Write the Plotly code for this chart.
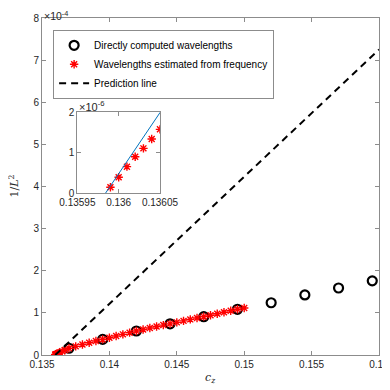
#!/usr/bin/env python3

'''
    Inverse squared wavelength versus c_z, with a zoomed inset near onset
'''

import plotly.graph_objects as go

# Directly computed wavelengths (1/L^2)
direct_cz = [0.1370, 0.1395, 0.1420, 0.1445, 0.1470, 0.1495, 0.1520, 0.1545, 0.1570, 0.1595]
direct_inv_l2 = [0.16e-4, 0.37e-4, 0.57e-4, 0.74e-4, 0.91e-4, 1.085e-4, 1.24e-4, 1.425e-4, 1.59e-4, 1.76e-4]

# Wavelengths estimated from frequency (1/L^2)
freq_cz = [0.13599, 0.13600, 0.13601, 0.13602, 0.13603, 0.13604, 0.13605,
           0.1361, 0.1362, 0.1363, 0.1365, 0.1367, 0.1370,
           0.1375, 0.1380, 0.1385, 0.1390, 0.1395, 0.1400, 0.1405, 0.1410,
           0.1415, 0.1420, 0.1425, 0.1430, 0.1435, 0.1440, 0.1445, 0.1450,
           0.1455, 0.1460, 0.1465, 0.1470, 0.1475, 0.1480, 0.1485, 0.1490,
           0.1495, 0.1500]
freq_inv_l2 = [0.148e-6, 0.395e-6, 0.657e-6, 0.904e-6, 1.11e-6, 1.34e-6, 1.58e-6,
               2.5e-6, 4.3e-6, 5.9e-6, 8.9e-6, 11.7e-6, 16.0e-6,
               20.5e-6, 24.9e-6, 29.1e-6, 33.1e-6, 37.0e-6, 41.0e-6, 45.0e-6, 49.0e-6,
               53.0e-6, 57.0e-6, 60.5e-6, 64.0e-6, 67.5e-6, 71.0e-6, 74.0e-6, 77.5e-6,
               81.0e-6, 84.5e-6, 88.0e-6, 91.0e-6, 94.5e-6, 98.0e-6, 101.5e-6, 105.0e-6,
               108.5e-6, 111.5e-6]

# Prediction line end points
pred_cz = [0.135984, 0.16]
pred_inv_l2 = [0.0, 7.25e-4]

# Tick labels
main_xticks = [0.135, 0.14, 0.145, 0.15, 0.155, 0.16]
main_xticktext = ['0.135', '0.14', '0.145', '0.15', '0.155', '0.16']
main_yticks = [0, 1, 2, 3, 4, 5, 6, 7, 8]
inset_xticks = [0.13595, 0.136, 0.13605]
inset_xticktext = ['0.13595', '0.136', '0.13605']
inset_yticks = [0, 1, 2]

font_family = 'Liberation Sans, Arial, sans-serif'
axis_grey = '#8c8c8c'
text_grey = '#262626'

fig = go.Figure()

# Main plot (values shown in units of 1e-4)
fig.add_trace(go.Scatter(
    x=direct_cz, y=[v * 1e4 for v in direct_inv_l2],
    mode='markers', name='Directly computed wavelengths',
    marker=dict(symbol='circle-open', size=9, color='black', line=dict(width=2.2, color='black')),
    xaxis='x', yaxis='y'
))
fig.add_trace(go.Scatter(
    x=freq_cz, y=[v * 1e4 for v in freq_inv_l2],
    mode='markers', name='Wavelengths estimated from frequency',
    marker=dict(symbol='asterisk-open', size=7, color='red', line=dict(width=1.4, color='red')),
    xaxis='x', yaxis='y'
))
fig.add_trace(go.Scatter(
    x=pred_cz, y=[v * 1e4 for v in pred_inv_l2],
    mode='lines', name='Prediction line',
    line=dict(color='black', width=2, dash='7px,5px'),
    xaxis='x', yaxis='y'
))

# Inset (values shown in units of 1e-6)
fig.add_trace(go.Scatter(
    x=freq_cz, y=[v * 1e6 for v in freq_inv_l2],
    mode='markers', showlegend=False,
    marker=dict(symbol='asterisk-open', size=7, color='red', line=dict(width=1.4, color='red')),
    xaxis='x2', yaxis='y2'
))
fig.add_trace(go.Scatter(
    x=pred_cz, y=[v * 1e6 for v in pred_inv_l2],
    mode='lines', showlegend=False,
    line=dict(color='#0072BD', width=1),
    xaxis='x2', yaxis='y2'
))

axis_common = dict(
    showgrid=False, zeroline=False, showline=True, linecolor=axis_grey, linewidth=1,
    mirror='ticks', ticks='inside', ticklen=4, tickcolor=axis_grey, automargin=False,
    tickfont=dict(size=10, color=text_grey, family=font_family),
)

# page body adds ~8 px offset, so the figure is a bit smaller and the margins compensate
fig.update_layout(
    width=382, height=382,
    margin=dict(l=34, r=11, t=10, b=35),
    paper_bgcolor='white', plot_bgcolor='white',
    font=dict(family=font_family, color=text_grey),
    xaxis=dict(axis_common, domain=[0, 1], range=[0.135, 0.16],
               tickvals=main_xticks, ticktext=main_xticktext, title=None),
    yaxis=dict(axis_common, domain=[0, 1], range=[0, 8], tickvals=main_yticks, title=None),
    xaxis2=dict(axis_common, domain=[0.105, 0.350], range=[0.13595, 0.13605], anchor='y2',
                tickvals=inset_xticks, ticktext=inset_xticktext),
    yaxis2=dict(axis_common, domain=[0.480, 0.720], range=[0, 2], anchor='x2',
                tickvals=inset_yticks),
    legend=dict(
        x=0.033, y=0.965, xanchor='left', yanchor='top',
        bgcolor='white', bordercolor=axis_grey, borderwidth=1,
        font=dict(size=10, color='black', family=font_family),
        tracegroupgap=0, itemwidth=30,
    ),
    showlegend=True,
    annotations=[
        dict(text='×10<sup>-4</sup>', x=0, y=1.0, xref='paper', yref='paper',
             xanchor='left', yanchor='bottom', showarrow=False, yshift=-6,
             font=dict(size=10.5, color=text_grey)),
        dict(text='×10<sup>-6</sup>', x=0.105, y=0.720, xref='paper', yref='paper',
             xanchor='left', yanchor='bottom', showarrow=False, yshift=-3,
             font=dict(size=11, color=text_grey)),
        # axis titles
        dict(text='<i>c<sub>z</sub></i>', x=0.5, y=-0.068, xref='paper', yref='paper',
             xanchor='center', yanchor='middle', showarrow=False,
             font=dict(size=11, family='DejaVu Serif', color=text_grey)),
        dict(text='1/<i>L</i><sup>2</sup>', x=-0.083, y=0.5, xref='paper', yref='paper',
             xanchor='center', yanchor='middle', showarrow=False, textangle=-90,
             font=dict(size=11, family='DejaVu Serif', color=text_grey)),
    ],
)

fig.write_html('out.html')
